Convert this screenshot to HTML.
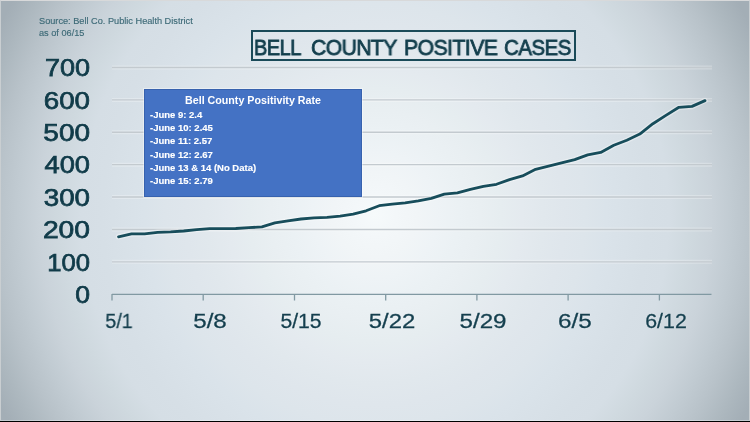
<!DOCTYPE html>
<html><head><meta charset="utf-8">
<style>
html,body{margin:0;padding:0;width:750px;height:422px;overflow:hidden;}
body{position:relative;font-family:"Liberation Sans",sans-serif;background:#000;}
#bg{position:absolute;left:0;top:0;width:750px;height:421px;background:radial-gradient(ellipse 420px 422px at 375px 215px, #f6fafb 0%, #f3f7f9 5%, #f1f5f7 10%, #eef3f6 15%, #ebf1f4 20%, #e9eff2 25%, #e6edf0 30%, #e4eaef 35%, #e1e8ed 40%, #dfe6ec 45%, #dde5eb 50%, #dae3ea 55%, #d8e1e8 60%, #d6dfe6 65%, #d5dee5 70%, #cfd9df 75%, #cad3da 80%, #c1cbd2 85%, #b8c2c9 90%, #adb8bf 95%, #a3aeb6 100%, #a3aeb6 105%, #a3aeb6 110%);}
#edge{position:absolute;left:0;top:0;width:748px;height:419px;border-left:1px solid #c9ced1;border-right:1px solid #c9ced1;border-top:1px solid #d8d9da;border-bottom:1px solid rgba(255,255,255,0.35);}
.src{will-change:transform;position:absolute;left:39px;top:16px;font-size:9.2px;line-height:11.5px;color:#3d6a77;-webkit-text-stroke:0.15px #3d6a77;white-space:nowrap;}
.title{position:absolute;left:251px;top:30px;width:321px;height:27px;border:2px solid #1a4a58;}
.title span{position:absolute;transform-origin:0 50%;top:5px;font-size:21.5px;letter-spacing:-0.55px;-webkit-text-stroke:0.8px #123e4c;will-change:transform;color:#123e4c;white-space:nowrap;line-height:22px;}
.yl{text-shadow:0 0 1.5px rgba(255,255,255,0.6);will-change:transform;position:absolute;left:0;width:90px;text-align:right;transform-origin:90px 50%;font-size:23.5px;color:#103b49;-webkit-text-stroke:0.75px #103b49;line-height:24px;white-space:nowrap;}
.xl{text-shadow:0 0 1.5px rgba(255,255,255,0.6);will-change:transform;position:absolute;top:311px;font-size:20.5px;color:#143f4e;line-height:20px;white-space:nowrap;-webkit-text-stroke:0.3px #143f4e;}
svg{position:absolute;left:0;top:0;}
.box{position:absolute;left:144px;top:89px;width:218px;height:108px;background:#4472c4;border:1px solid #3762ae;box-sizing:border-box;color:#fff;font-weight:bold;box-shadow:0 0 0 1px rgba(255,255,255,0.4);}
.box .h{will-change:transform;position:absolute;left:40px;top:4px;font-size:10.7px;line-height:12px;white-space:nowrap;}
.box .l{will-change:transform;position:absolute;left:4.8px;font-size:9.5px;-webkit-text-stroke:0.15px #fff;line-height:11px;white-space:nowrap;}
</style></head><body>
<div id="bg"></div>
<div id="edge"></div>
<div class="src">Source: Bell Co. Public Health District<br>as of 06/15</div>
<div class="title"><span style="left:0.7px;transform:scaleX(0.930)">BELL</span><span style="left:57.9px;transform:scaleX(0.980)">COUNTY</span><span style="left:151.3px;transform:scaleX(0.985)">POSITIVE</span><span style="left:251.1px;transform:scaleX(0.954)">CASES</span></div>
<svg width="750" height="422" viewBox="0 0 750 422">
 <g stroke="#ffffff" stroke-opacity="0.25" stroke-width="4">
  <line x1="112" y1="67.50" x2="712" y2="67.50"/>
  <line x1="112" y1="99.89" x2="712" y2="99.89"/>
  <line x1="112" y1="132.28" x2="712" y2="132.28"/>
  <line x1="112" y1="164.67" x2="712" y2="164.67"/>
  <line x1="112" y1="197.06" x2="712" y2="197.06"/>
  <line x1="112" y1="229.45" x2="712" y2="229.45"/>
  <line x1="112" y1="261.84" x2="712" y2="261.84"/>
 </g>
 <g stroke="#c3cacf" stroke-width="1.4">
  <line x1="112" y1="67.50" x2="712" y2="67.50"/>
  <line x1="112" y1="99.89" x2="712" y2="99.89"/>
  <line x1="112" y1="132.28" x2="712" y2="132.28"/>
  <line x1="112" y1="164.67" x2="712" y2="164.67"/>
  <line x1="112" y1="197.06" x2="712" y2="197.06"/>
  <line x1="112" y1="229.45" x2="712" y2="229.45"/>
  <line x1="112" y1="261.84" x2="712" y2="261.84"/>
 </g>
 <g stroke="#8199a2" stroke-width="1.3">
  <line x1="112" y1="294.3" x2="711.5" y2="294.3"/>
  <line x1="112.0" y1="294" x2="112.0" y2="300.5"/>
  <line x1="203.2" y1="294" x2="203.2" y2="300.5"/>
  <line x1="294.5" y1="294" x2="294.5" y2="300.5"/>
  <line x1="385.7" y1="294" x2="385.7" y2="300.5"/>
  <line x1="476.9" y1="294" x2="476.9" y2="300.5"/>
  <line x1="568.1" y1="294" x2="568.1" y2="300.5"/>
  <line x1="659.4" y1="294" x2="659.4" y2="300.5"/>
 </g>
 <polyline fill="none" stroke="#ffffff" stroke-opacity="0.35" stroke-width="5.5" stroke-linejoin="round" stroke-linecap="round" points="118.5,236.8 131.5,233.8 144.6,233.9 157.6,232.3 170.6,231.8 183.7,231.0 196.7,229.6 209.7,228.6 222.8,228.6 235.8,228.5 248.8,227.7 261.9,226.9 274.9,222.9 287.9,220.8 301.0,219.0 314.0,217.8 327.0,217.4 340.1,216.2 353.1,214.2 366.1,210.8 379.2,205.7 392.2,204.1 405.2,202.9 418.3,200.9 431.3,198.4 444.3,194.2 457.4,192.8 470.4,189.4 483.4,186.4 496.5,184.3 509.5,179.6 522.5,175.9 535.6,169.3 548.6,166.1 561.6,162.8 574.7,159.6 587.7,154.9 600.7,152.4 613.8,145.3 626.8,140.2 639.8,134.1 652.9,123.7 665.9,115.4 678.9,107.3 692.0,106.4 705.0,100.6"/>
 <polyline fill="none" stroke="#174d5b" stroke-width="2.8" stroke-linejoin="round" stroke-linecap="round" points="118.5,236.8 131.5,233.8 144.6,233.9 157.6,232.3 170.6,231.8 183.7,231.0 196.7,229.6 209.7,228.6 222.8,228.6 235.8,228.5 248.8,227.7 261.9,226.9 274.9,222.9 287.9,220.8 301.0,219.0 314.0,217.8 327.0,217.4 340.1,216.2 353.1,214.2 366.1,210.8 379.2,205.7 392.2,204.1 405.2,202.9 418.3,200.9 431.3,198.4 444.3,194.2 457.4,192.8 470.4,189.4 483.4,186.4 496.5,184.3 509.5,179.6 522.5,175.9 535.6,169.3 548.6,166.1 561.6,162.8 574.7,159.6 587.7,154.9 600.7,152.4 613.8,145.3 626.8,140.2 639.8,134.1 652.9,123.7 665.9,115.4 678.9,107.3 692.0,106.4 705.0,100.6"/>
</svg>
<div class="yl" style="top:56.3px;transform:scaleX(1.15)">700</div>
<div class="yl" style="top:88.8px;transform:scaleX(1.18)">600</div>
<div class="yl" style="top:121.1px;transform:scaleX(1.19)">500</div>
<div class="yl" style="top:153.4px;transform:scaleX(1.16)">400</div>
<div class="yl" style="top:185.8px;transform:scaleX(1.18)">300</div>
<div class="yl" style="top:218.2px;transform:scaleX(1.20)">200</div>
<div class="yl" style="top:250.5px;transform:scaleX(1.09)">100</div>
<div class="yl" style="top:283.1px;transform:scaleX(1.13)">0</div>
<div class="xl" style="left:118.5px;transform:translateX(-50%) scaleX(0.965)">5/1</div>
<div class="xl" style="left:209.7px;transform:translateX(-50%) scaleX(1.180)">5/8</div>
<div class="xl" style="left:301.0px;transform:translateX(-50%) scaleX(1.030)">5/15</div>
<div class="xl" style="left:392.2px;transform:translateX(-50%) scaleX(1.165)">5/22</div>
<div class="xl" style="left:483.4px;transform:translateX(-50%) scaleX(1.180)">5/29</div>
<div class="xl" style="left:574.7px;transform:translateX(-50%) scaleX(1.185)">6/5</div>
<div class="xl" style="left:665.9px;transform:translateX(-50%) scaleX(1.040)">6/12</div>
<div class="box">
 <div class="h">Bell County Positivity Rate</div>
 <div class="l" style="top:18.7px">-June 9: 2.4</div>
 <div class="l" style="top:32.0px">-June 10: 2.45</div>
 <div class="l" style="top:45.3px">-June 11: 2.57</div>
 <div class="l" style="top:58.6px">-June 12: 2.67</div>
 <div class="l" style="top:71.9px">-June 13 &amp; 14 (No Data)</div>
 <div class="l" style="top:85.2px">-June 15: 2.79</div>
</div>
</body></html>
